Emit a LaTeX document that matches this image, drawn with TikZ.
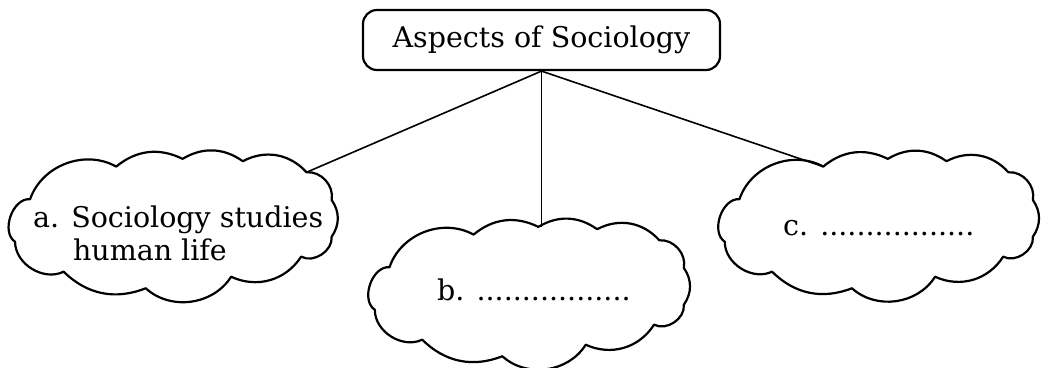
\documentclass[tikz,border=0pt]{standalone}
\usepackage{fontspec}
\setmainfont{DejaVu Serif}
\begin{document}
\begin{tikzpicture}[x=1pt,y=-1pt,
  lbl/.style={font=\fontsize{28.5}{33}\selectfont,inner sep=0pt},
  topbox/.style={draw,line width=2.2pt,rounded corners=14pt,minimum width=357pt,minimum height=60pt,inner sep=0pt,lbl},
  cloudline/.style={draw,line width=2.2pt,line join=round},
  link/.style={line width=1.6pt}]
\newcommand{\drawcloud}[5]{%
  \begin{scope}[shift={(#2,#3)},x=#4pt,y=-#5pt]
    \coordinate (#1-1) at (0.332,0.124);
    \coordinate (#1-2) at (0.530,0.075);
    \coordinate (#1-3) at (0.710,0.090);
    \coordinate (#1-4) at (0.900,0.160);
    \coordinate (#1-5) at (0.975,0.335);
    \coordinate (#1-6) at (0.975,0.568);
    \coordinate (#1-7) at (0.884,0.694);
    \coordinate (#1-8) at (0.675,0.821);
    \coordinate (#1-9) at (0.420,0.894);
    \coordinate (#1-10) at (0.175,0.789);
    \coordinate (#1-11) at (0.030,0.600);
    \coordinate (#1-12) at (0.075,0.330);
    \draw[cloudline] (#1-1) to[bend left=33] (#1-2) to[bend left=33] (#1-3)
      to[bend left=38] (#1-4) to[bend left=53] (#1-5) to[bend left=35] (#1-6)
      to[bend left=62] (#1-7) to[bend left=41] (#1-8) to[bend left=50] (#1-9)
      to[bend left=33] (#1-10) to[bend left=58] (#1-11) to[bend left=75] (#1-12)
      to[bend left=50] (#1-1) -- cycle;
  \end{scope}}
\useasboundingbox (0,0) rectangle (1041,367);
\node[topbox] (top) at (541.5,40) {Aspects of Sociology};
\drawcloud{a}{5}{147}{335}{158}
\drawcloud{b}{365}{215}{327}{158}
\drawcloud{c}{715}{147}{326}{158}
\node[lbl,anchor=west,align=left] (ta) at (33,233) {a. Sociology studies\\\hspace*{1.4em}human life};
\node[lbl,anchor=west] (tb) at (437,290) {b. .................};
\node[lbl,anchor=west] (tc) at (783,228) {c. .................};
\draw[link] (top.south) -- (a-4);
\draw[link] (top.south) -- (top.south |- b-2);
\draw[link] (top.south) -- (c-1);
\end{tikzpicture}
\end{document}
